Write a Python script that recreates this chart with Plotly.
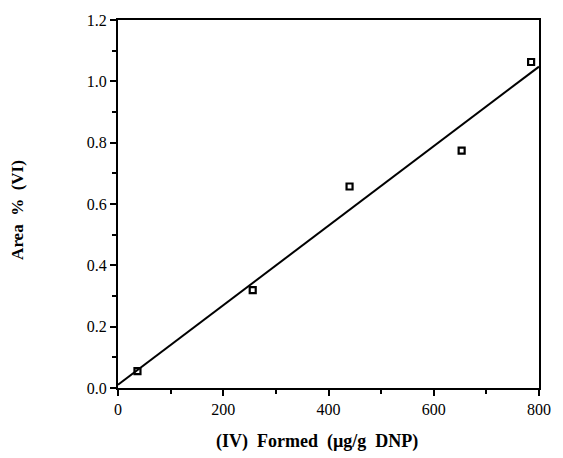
import numpy as np
import plotly.graph_objects as go

# Data
formed_iv = [37, 256, 440, 653, 785]          # (IV) Formed (µg/g DNP)
area_vi = [0.055, 0.319, 0.657, 0.774, 1.063]  # Area % (VI)
x_ticks = [0, 200, 400, 600, 800]
y_ticks = [0.0, 0.2, 0.4, 0.6, 0.8, 1.0, 1.2]

# Least-squares line through the points
slope, intercept = np.polyfit(formed_iv, area_vi, 1)
fit_x = [0, 800]
fit_y = [intercept + slope * v for v in fit_x]

SERIF = "Liberation Serif, Times New Roman, serif"

fig = go.Figure()
fig.add_trace(go.Scatter(
    x=fit_x, y=fit_y, mode="lines",
    line=dict(color="black", width=2),
    hoverinfo="skip", showlegend=False, cliponaxis=False,
))
fig.add_trace(go.Scatter(
    x=formed_iv, y=area_vi, mode="markers",
    marker=dict(symbol="square-open", size=6, color="black",
                line=dict(color="black", width=2.2)),
    showlegend=False, cliponaxis=False,
))

fig.update_xaxes(
    range=[0, 800], tickvals=x_ticks, ticktext=[str(v) for v in x_ticks],
    showline=True, linecolor="black", linewidth=2, mirror=True,
    ticks="outside", ticklen=6, tickwidth=2, tickcolor="black",
    minor=dict(dtick=100, ticks="outside", ticklen=4, tickwidth=1.5, tickcolor="black", showgrid=False),
    showgrid=False, zeroline=False,
    tickfont=dict(family=SERIF, size=16, color="black"),
)
fig.update_yaxes(
    range=[0, 1.2], tickvals=y_ticks, ticktext=[f"{v:.1f}" for v in y_ticks],
    showline=True, linecolor="black", linewidth=2, mirror=True,
    ticks="outside", ticklen=6, tickwidth=2, tickcolor="black",
    minor=dict(dtick=0.1, ticks="outside", ticklen=4, tickwidth=1.5, tickcolor="black", showgrid=False),
    showgrid=False, zeroline=False,
    tickfont=dict(family=SERIF, size=16, color="black"),
)

fig.add_annotation(
    text="<b>(IV)\u00a0 Formed\u00a0 (µg/g\u00a0 DNP)</b>",
    xref="paper", yref="paper", x=0.473, y=-0.146,
    xanchor="center", yanchor="middle", showarrow=False,
    font=dict(family=SERIF, size=18, color="black"),
)
fig.add_annotation(
    text="<b>Area\u00a0 %\u00a0 (VI)</b>",
    xref="paper", yref="paper", x=-0.239, y=0.485,
    xanchor="center", yanchor="middle", showarrow=False, textangle=-90,
    font=dict(family=SERIF, size=17, color="black"),
)

fig.update_layout(
    width=563, height=458,
    margin=dict(l=118, r=14, t=19, b=70),
    paper_bgcolor="white", plot_bgcolor="white",
)

fig.write_html("out.html")
